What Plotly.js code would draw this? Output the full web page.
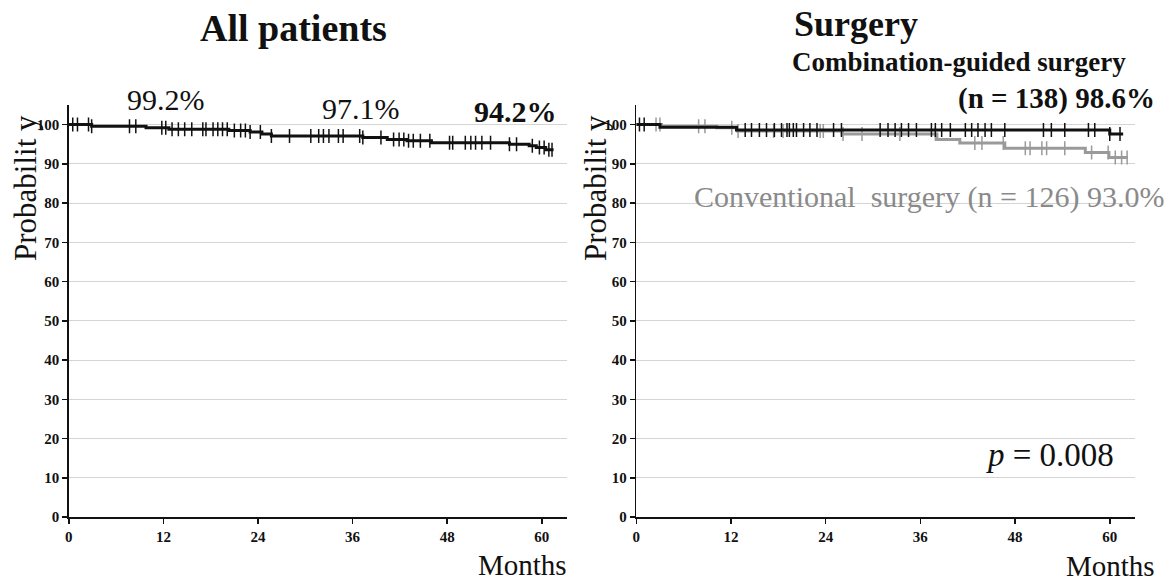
<!DOCTYPE html>
<html>
<head>
<meta charset="utf-8">
<script src="https://cdn.plot.ly/plotly-3.0.1.min.js"></script>
<style>html,body{margin:0;padding:0;background:#fff;}#chart{width:1172px;height:585px;}</style>
</head>
<body>
<div id="chart"></div>
<script>
// ---- Data ----
// All patients: Kaplan-Meier step curve
const allTimes = [0, 2.9, 9.8, 12.7, 20.3, 23.0, 24.5, 25.7, 37.3, 40.4, 42.9, 46.0, 55.9, 58.4, 59.3, 60.5, 61.5];
const allSurv  = [100, 99.6, 99.2, 98.8, 98.5, 98.1, 97.6, 97.1, 96.7, 96.2, 95.9, 95.4, 95.0, 94.6, 94.2, 93.6, 93.6];
const allCensor = [0.5, 1.1, 2.5, 2.9, 7.7, 8.5, 11.8, 12.3, 13.1, 13.9, 14.7, 15.6, 17.0, 17.4, 18.3, 18.9, 19.5, 20.1,
  21.0, 21.8, 22.4, 23.0, 24.3, 25.7, 28.0, 30.7, 31.7, 32.3, 33.0, 34.2, 34.8, 36.9, 37.3, 39.6, 41.2, 41.9, 42.5,
  43.1, 43.7, 44.6, 45.8, 48.3, 48.7, 50.3, 51.0, 51.6, 52.4, 53.5, 55.9, 56.8, 58.8, 59.7, 60.3, 60.9, 61.3];

// Surgery: combination-guided (black)
const combTimes = [0, 3.0, 12.7, 60.0, 61.7];
const combSurv  = [100, 99.3, 98.6, 97.6, 97.6];
const combCensor = [0.4, 1.0, 13.8, 14.6, 15.6, 16.5, 17.5, 18.4, 19.1, 19.4, 19.9, 20.3, 21.2, 22.0, 22.9, 25.0, 26.0,
  30.9, 31.9, 32.8, 33.6, 34.5, 35.5, 37.4, 37.9, 38.7, 39.8, 41.7, 42.5, 43.3, 44.2, 45.0, 46.7, 51.6, 52.6, 54.3,
  57.3, 58.1, 60.0, 61.3];

// Surgery: conventional (gray)
const convTimes = [0, 3.2, 10.2, 12.8, 26.1, 38.1, 41.0, 46.7, 56.9, 59.9, 62.3];
const convSurv  = [100, 99.6, 99.2, 98.4, 97.6, 96.2, 95.3, 94.0, 92.9, 91.6, 91.6];
const convCensor = [2.5, 3.0, 7.9, 8.7, 12.1, 12.9, 17.4, 18.6, 23.3, 23.7, 26.2, 28.6, 33.4, 37.9, 42.9, 43.8, 46.5,
  49.3, 49.9, 51.4, 52.0, 54.3, 57.7, 59.8, 60.7, 61.5, 62.2];

const xTicks = [0, 12, 24, 36, 48, 60];
const yTicks = [0, 10, 20, 30, 40, 50, 60, 70, 80, 90, 100];

// ---- helpers ----
function survAt(times, surv, t) {
  let v = surv[0];
  for (let i = 0; i < times.length; i++) { if (times[i] <= t) v = surv[i]; }
  return v;
}
const BLACK = '#111111', GRAY = '#9a9a9a';
function curve(times, surv, color, xa, ya) {
  return {x: times, y: surv, xaxis: xa, yaxis: ya, mode: 'lines', type: 'scatter',
    line: {shape: 'hv', color: color, width: 3}, hoverinfo: 'skip', showlegend: false};
}
function censor(ct, times, surv, color, xa, ya) {
  return {x: ct, y: ct.map(t => survAt(times, surv, t)), xaxis: xa, yaxis: ya, mode: 'markers', type: 'scatter',
    marker: {symbol: 'line-ns', size: 10, line: {color: color, width: 1.5}}, hoverinfo: 'skip', showlegend: false};
}

const data = [
  curve(allTimes, allSurv, BLACK, 'x', 'y'),
  censor(allCensor, allTimes, allSurv, BLACK, 'x', 'y'),
  curve(convTimes, convSurv, GRAY, 'x2', 'y2'),
  censor(convCensor, convTimes, convSurv, GRAY, 'x2', 'y2'),
  curve(combTimes, combSurv, BLACK, 'x2', 'y2'),
  censor(combCensor, combTimes, combSurv, BLACK, 'x2', 'y2')
];

const W = 1172, H = 585;
const px = v => v / W, py = v => (H - v) / H;
const yDom = [py(517), py(105)];
const serif = 'Liberation Serif';
const tickFont = {family: serif, size: 15, color: '#111', weight: 'bold'};

function xAxis(dom, anchor) {
  return {domain: dom, range: [0, 63.2], anchor: anchor, tickvals: xTicks, ticktext: xTicks.map(String),
    showgrid: false, zeroline: false, showline: true, linecolor: '#111', linewidth: 1.5,
    ticks: 'outside', ticklen: 5, tickwidth: 1.5, tickcolor: '#111', tickfont: tickFont, fixedrange: true};
}
function yAxis(anchor) {
  return {domain: yDom, range: [0, 105], anchor: anchor, tickvals: yTicks, ticktext: yTicks.map(String),
    showgrid: true, gridcolor: '#d4d4d4', gridwidth: 1, zeroline: false, showline: true, linecolor: '#111', linewidth: 1.5,
    ticks: 'outside', ticklen: 5, tickwidth: 1.5, tickcolor: '#111', tickfont: tickFont, fixedrange: true};
}
function xIn(dom, over, anchor) {
  return {domain: dom, range: [0, 63.2], overlaying: over, anchor: anchor, tickvals: xTicks, showticklabels: false,
    showgrid: false, zeroline: false, showline: false, ticks: 'inside', ticklen: 6, tickwidth: 1.5, tickcolor: '#111'};
}
function yIn(over, anchor) {
  return {domain: yDom, range: [0, 105], overlaying: over, anchor: anchor, tickvals: yTicks, showticklabels: false,
    showgrid: false, zeroline: false, showline: false, ticks: 'inside', ticklen: 5, tickwidth: 1.5, tickcolor: '#111'};
}

const leftDom = [px(68.8), px(567)];
const rightDom = [px(636.3), px(1135)];

function ann(text, x, y, size, opts) {
  return Object.assign({text: text, x: px(x), y: py(y), xref: 'paper', yref: 'paper', showarrow: false,
    xanchor: 'center', yanchor: 'middle', font: {family: serif, size: size, color: '#111'}}, opts || {});
}

const layout = {
  width: W, height: H, margin: {l: 0, r: 0, t: 0, b: 0},
  font: {family: serif, color: '#111'},
  paper_bgcolor: '#fff', plot_bgcolor: 'rgba(0,0,0,0)', showlegend: false,
  xaxis: xAxis(leftDom, 'y'), yaxis: yAxis('x'),
  xaxis2: xAxis(rightDom, 'y2'), yaxis2: yAxis('x2'),
  xaxis3: xIn(leftDom, 'x', 'y'), yaxis3: yIn('y', 'x'),
  xaxis4: xIn(rightDom, 'x2', 'y2'), yaxis4: yIn('y2', 'x2'),
  annotations: [
    ann('<b>All patients</b>', 293, 28, 38),
    ann('<b>Surgery</b>', 856, 24, 36),
    ann('<b>Combination-guided surgery</b>', 959, 62, 27),
    ann('<b>(n = 138) 98.6%</b>', 1157, 99, 29, {xanchor: 'right'}),
    ann('Conventional  surgery (n = 126) 93.0%', 1166, 197, 30, {xanchor: 'right', font: {family: serif, size: 30, color: '#8a8a8a'}}),
    ann('99.2%', 166, 100, 30),
    ann('97.1%', 361, 108, 30),
    ann('<b>94.2%</b>', 515, 112, 30),
    ann('Probabilit y', 26, 188, 31, {textangle: -90}),
    ann('Probabilit y', 596, 188, 31, {textangle: -90}),
    ann('Months', 522, 565, 29),
    ann('Months', 1110, 566, 29)
    ,ann('<i>p</i> = 0.008', 1050, 455, 33)
  ]
};

Plotly.newPlot('chart', data, layout, {staticPlot: true, displayModeBar: false});
</script>
</body>
</html>
